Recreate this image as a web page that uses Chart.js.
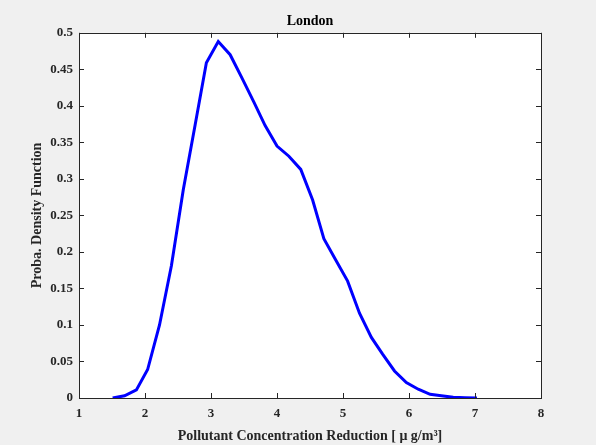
<!DOCTYPE html>
<html>
<head>
<meta charset="utf-8">
<title>London</title>
<script src="https://cdn.jsdelivr.net/npm/chart.js@4/dist/chart.umd.min.js"></script>
<style>
  html, body { margin: 0; padding: 0; background: #f0f0f0; }
  #wrap { width: 596px; height: 445px; }
</style>
</head>
<body>
<div id="wrap"><canvas id="c" width="596" height="445"></canvas></div>
<script>
// Estimated density of pollutant concentration reduction, London
const reduction = [1.51, 1.69, 1.87, 2.04, 2.22, 2.40, 2.58, 2.76, 2.93, 3.11,
                   3.29, 3.47, 3.65, 3.82, 4.00, 4.18, 4.36, 4.54, 4.71, 4.89,
                   5.07, 5.25, 5.43, 5.60, 5.78, 5.96, 6.14, 6.32, 6.49, 6.67,
                   6.85, 7.03];
const density = [0.000, 0.003, 0.011, 0.039, 0.100, 0.181, 0.285, 0.374, 0.459, 0.488,
                 0.470, 0.438, 0.405, 0.373, 0.345, 0.331, 0.313, 0.271, 0.218, 0.189,
                 0.160, 0.116, 0.083, 0.060, 0.037, 0.021, 0.012, 0.005, 0.003, 0.001,
                 0.0005, 0.000];
const xTickLabels = ['1', '2', '3', '4', '5', '6', '7', '8'];
const yTickLabels = ['0', '0.05', '0.1', '0.15', '0.2', '0.25', '0.3', '0.35', '0.4', '0.45', '0.5'];

const SERIF = '"Liberation Serif", "Times New Roman", serif';
const INK = '#262626';

// Figure background, white axes, box outline and inward tick marks on all sides
const axesBox = {
  id: 'axesBox',
  beforeDraw(chart) {
    const { ctx, chartArea: a } = chart;
    ctx.save();
    ctx.fillStyle = '#f0f0f0';
    ctx.fillRect(0, 0, chart.width, chart.height);
    ctx.fillStyle = '#ffffff';
    ctx.fillRect(a.left, a.top, a.right - a.left, a.bottom - a.top);
    ctx.restore();
  },
  afterDraw(chart) {
    const { ctx, chartArea: a, scales } = chart;
    const len = 5;
    ctx.save();
    ctx.strokeStyle = INK;
    ctx.lineWidth = 1;
    ctx.beginPath();
    scales.x.ticks.forEach(t => {
      const px = Math.round(scales.x.getPixelForValue(t.value)) + 0.5;
      ctx.moveTo(px, a.bottom); ctx.lineTo(px, a.bottom - len);
      ctx.moveTo(px, a.top); ctx.lineTo(px, a.top + len);
    });
    scales.y.ticks.forEach(t => {
      const py = Math.round(scales.y.getPixelForValue(t.value)) + 0.5;
      ctx.moveTo(a.left, py); ctx.lineTo(a.left + len, py);
      ctx.moveTo(a.right, py); ctx.lineTo(a.right - len, py);
    });
    ctx.stroke();
    ctx.strokeRect(Math.round(a.left) + 0.5, Math.round(a.top) + 0.5,
                   Math.round(a.right - a.left), Math.round(a.bottom - a.top));
    ctx.restore();
  }
};

const points = reduction.map((x, i) => ({ x, y: density[i] }));

new Chart(document.getElementById('c'), {
  type: 'line',
  data: {
    datasets: [{
      data: points,
      borderColor: '#0000ff',
      borderWidth: 3,
      pointRadius: 0,
      tension: 0,
      fill: false
    }]
  },
  options: {
    responsive: false,
    animation: false,
    devicePixelRatio: 1,
    layout: { padding: { left: 0, right: 55, top: 0, bottom: 0 } },
    plugins: {
      legend: { display: false },
      tooltip: { enabled: false },
      title: {
        display: true,
        fullSize: false,
        text: 'London',
        color: '#000000',
        font: { family: SERIF, size: 14, weight: 'bold', lineHeight: 1.2 },
        padding: { top: 13, bottom: 3 }
      }
    },
    scales: {
      x: {
        type: 'linear',
        min: 1,
        max: 8,
        afterFit(s) { s.height = 47; },
        grid: { display: false, drawTicks: false },
        border: { display: false },
        ticks: {
          stepSize: 1,
          padding: 8,
          color: INK,
          font: { family: SERIF, size: 13, weight: 'bold' },
          callback: (v) => xTickLabels[Math.round(v) - 1]
        },
        title: {
          display: true,
          text: 'Pollutant Concentration Reduction [ μ g/m³]',
          color: INK,
          font: { family: SERIF, size: 14, weight: 'bold', lineHeight: 1.2 },
          padding: { top: 0, bottom: 0 }
        }
      },
      y: {
        type: 'linear',
        min: 0,
        max: 0.5,
        afterFit(s) { s.width = 79; },
        grid: { display: false, drawTicks: false },
        border: { display: false },
        ticks: {
          stepSize: 0.05,
          padding: 6,
          color: INK,
          font: { family: SERIF, size: 13, weight: 'bold' },
          callback: (v) => yTickLabels[Math.round(v / 0.05)]
        },
        title: {
          display: true,
          text: 'Proba. Density Function',
          color: INK,
          font: { family: SERIF, size: 14, weight: 'bold', lineHeight: 1.2 },
          padding: { top: 29, bottom: 0 }
        }
      }
    }
  },
  plugins: [axesBox]
});
</script>
</body>
</html>
